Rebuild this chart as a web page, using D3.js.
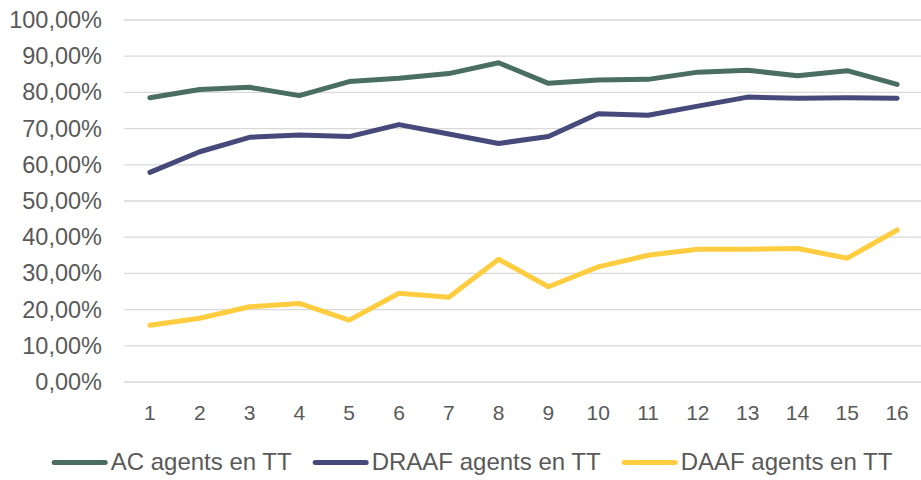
<!DOCTYPE html>
<html>
<head>
<meta charset="utf-8">
<script src="https://cdn.jsdelivr.net/npm/d3@7"></script>
<style>
  body { margin: 0; background: #fff; }
  text { font-family: "Liberation Sans", Arial, sans-serif; fill: #595959; }
</style>
</head>
<body>
<div id="chart"></div>
<script>
var width = 921,
    height = 480;

// data
var categories = ["1","2","3","4","5","6","7","8","9","10","11","12","13","14","15","16"];
var acValues    = [78.5, 80.8, 81.4, 79.1, 83.0, 83.9, 85.2, 88.2, 82.5, 83.4, 83.6, 85.6, 86.1, 84.6, 86.0, 82.2];
var draafValues = [57.9, 63.6, 67.6, 68.2, 67.8, 71.1, 68.5, 65.9, 67.8, 74.1, 73.7, 76.2, 78.7, 78.4, 78.5, 78.4];
var daafValues  = [15.7, 17.6, 20.8, 21.7, 17.1, 24.5, 23.4, 33.9, 26.3, 31.8, 35.0, 36.7, 36.7, 36.9, 34.2, 42.0];
var yTicks = [0, 10, 20, 30, 40, 50, 60, 70, 80, 90, 100];
var seriesNames = ["AC agents en TT", "DRAAF agents en TT", "DAAF agents en TT"];
var seriesColors = ["#4a6e62", "#464a7b", "#ffcd3f"];

var series = [acValues, draafValues, daafValues].map(function(v, i) {
  return { name: seriesNames[i], color: seriesColors[i], values: v };
});

var svg = d3.select("#chart").append("svg")
    .attr("width", width)
    .attr("height", height);

var x = d3.scaleBand()
    .domain(categories)
    .range([125, 922]);

var y = d3.scaleLinear()
    .domain([0, 100])
    .range([382, 20]);

var fmt = function(d) { return d3.format(".2f")(d).replace(".", ",") + "%"; };

// gridlines
svg.append("g")
  .selectAll("line")
  .data(yTicks)
  .enter().append("line")
    .attr("x1", 124)
    .attr("x2", width)
    .attr("y1", function(d) { return y(d); })
    .attr("y2", function(d) { return y(d); })
    .attr("stroke", "#d9d9d9")
    .attr("stroke-width", 1.3);

// y axis labels
svg.append("g")
  .selectAll("text")
  .data(yTicks)
  .enter().append("text")
    .attr("x", 102)
    .attr("y", function(d) { return y(d) + 8; })
    .attr("text-anchor", "end")
    .style("font-size", "23.5px")
    .text(fmt);

// x axis labels
svg.append("g")
  .selectAll("text")
  .data(categories)
  .enter().append("text")
    .attr("x", function(d) { return x(d) + x.bandwidth() / 2; })
    .attr("y", 419.5)
    .attr("text-anchor", "middle")
    .style("font-size", "21px")
    .text(function(d) { return d; });

var line = d3.line()
    .x(function(d, i) { return x(categories[i]) + x.bandwidth() / 2; })
    .y(function(d) { return y(d); });

svg.append("g")
  .selectAll("path")
  .data(series)
  .enter().append("path")
    .attr("d", function(d) { return line(d.values); })
    .attr("fill", "none")
    .attr("stroke", function(d) { return d.color; })
    .attr("stroke-width", 5)
    .attr("stroke-linejoin", "round")
    .attr("stroke-linecap", "round");

// legend
var legend = svg.append("g");
var items = legend.selectAll("g")
    .data(series)
  .enter().append("g");

items.append("line")
    .attr("x1", 2.5).attr("x2", 53.5)
    .attr("y1", 462.5).attr("y2", 462.5)
    .attr("stroke", function(d) { return d.color; })
    .attr("stroke-width", 5)
    .attr("stroke-linecap", "round");

items.append("text")
    .attr("x", 59)
    .attr("y", 469.5)
    .style("font-size", "24px")
    .text(function(d) { return d.name; });

var pos = 0;
items.each(function() {
  var g = d3.select(this);
  var w = 59 + g.select("text").node().getComputedTextLength();
  g.attr("transform", "translate(" + pos + ",0)");
  pos += w + 21;
});
var total = pos - 21;
legend.attr("transform", "translate(" + (472 - total / 2) + ",0)");
</script>
</body>
</html>
